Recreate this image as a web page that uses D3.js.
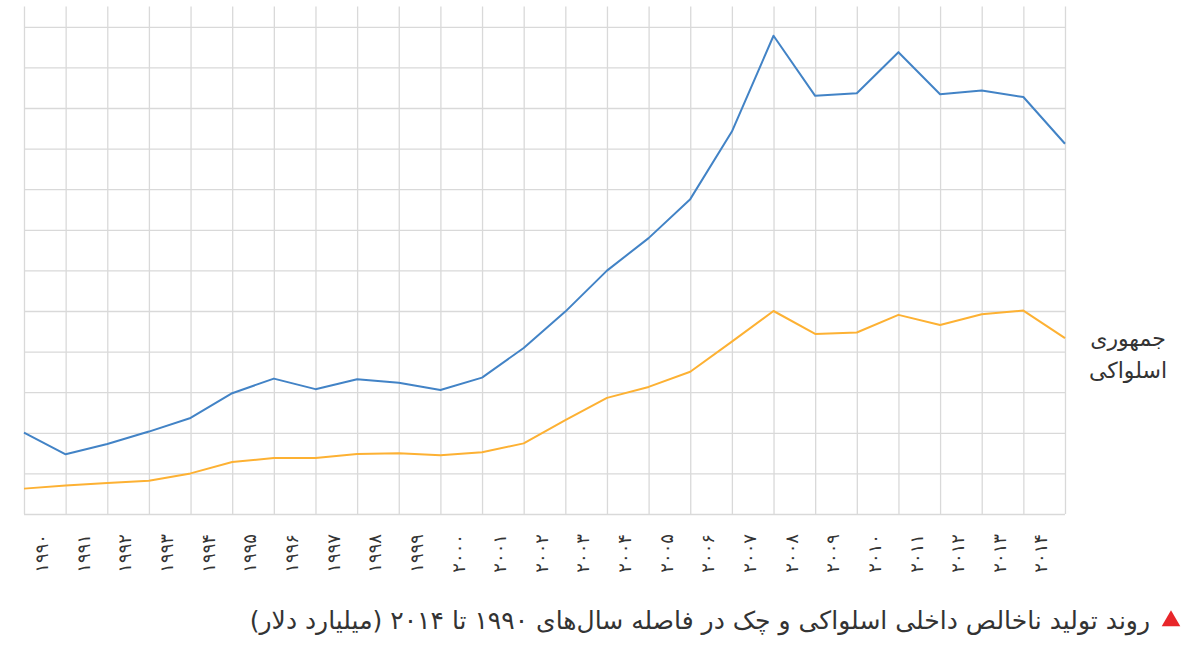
<!DOCTYPE html>
<html>
<head>
<meta charset="utf-8">
<script src="https://cdn.jsdelivr.net/npm/d3@7"></script>
<style>
  html, body { margin: 0; padding: 0; background: #ffffff; }
  svg { display: block; }
</style>
</head>
<body>
<svg id="chart" width="1199" height="647"></svg>
<script>
// ---- data ----
const years = [1990,1991,1992,1993,1994,1995,1996,1997,1998,1999,2000,2001,2002,2003,2004,2005,2006,2007,2008,2009,2010,2011,2012,2013,2014,2015];
const czechValues = [40.1,29.4,34.5,40.6,47.3,59.5,66.7,61.5,66.4,64.7,61.1,67.2,81.8,99.7,119.9,135.9,155.1,188.4,235.6,206.0,207.3,227.5,206.8,208.6,205.4,182.4];
const slovakValues = [12.5,14.0,15.3,16.4,20.0,25.6,27.6,27.6,29.6,29.9,28.9,30.4,34.8,46.3,57.2,62.6,70.1,84.9,100.0,88.7,89.4,98.1,93.1,98.4,100.2,86.6];
const tickYears = [1990,1991,1992,1993,1994,1995,1996,1997,1998,1999,2000,2001,2002,2003,2004,2005,2006,2007,2008,2009,2010,2011,2012,2013,2014];
const tickLabels = ["۱۹۹۰","۱۹۹۱","۱۹۹۲","۱۹۹۳","۱۹۹۴","۱۹۹۵","۱۹۹۶","۱۹۹۷","۱۹۹۸","۱۹۹۹","۲۰۰۰","۲۰۰۱","۲۰۰۲","۲۰۰۳","۲۰۰۴","۲۰۰۵","۲۰۰۶","۲۰۰۷","۲۰۰۸","۲۰۰۹","۲۰۱۰","۲۰۱۱","۲۰۱۲","۲۰۱۳","۲۰۱۴"];
const gridValues = [0,20,40,60,80,100,120,140,160,180,200,220,240];
const seriesLabelLines = ["جمهوری","اسلواکی"];
const titleText = "روند تولید ناخالص داخلی اسلواکی و چک در فاصله سال‌های ۱۹۹۰ تا ۲۰۱۴ (میلیارد دلار)";

// ---- layout ----
const svg = d3.select("#chart");
const plotLeft = 24, plotRight = 1065, plotTop = 6.5, plotBottom = 514;
const gridColor = "#d9d9d9";
const blue = "#4283c6";
const orange = "#fdb133";

const x = d3.scalePoint().domain(years).range([plotLeft, plotRight]);
const xBand = d3.scaleBand().domain(tickYears).range([plotLeft, plotRight]);
const y = d3.scaleLinear().domain([0, 250]).range([plotBottom, plotTop]);

// horizontal gridlines
svg.append("g")
  .attr("transform", `translate(${plotLeft},0)`)
  .call(d3.axisLeft(y).tickValues(gridValues).tickSize(-(plotRight - plotLeft)).tickFormat(""))
  .call(g => g.select(".domain").remove())
  .call(g => g.selectAll(".tick line").attr("stroke", gridColor).attr("stroke-width", 1.3));

// vertical gridlines
svg.append("g")
  .attr("transform", `translate(0,${plotBottom})`)
  .call(d3.axisTop(x).tickSize(plotBottom - plotTop).tickFormat(""))
  .call(g => g.select(".domain").remove())
  .call(g => g.selectAll(".tick line").attr("stroke", gridColor).attr("stroke-width", 1.3));

// x labels
const labelMap = new Map(tickYears.map((yv, i) => [yv, tickLabels[i]]));
const xAxis = svg.append("g")
  .attr("transform", `translate(0,${plotBottom})`)
  .call(d3.axisBottom(xBand).tickSize(0).tickFormat(d => labelMap.get(d)));
xAxis.select(".domain").remove();
xAxis.selectAll(".tick text")
  .attr("font-family", "'DejaVu Sans', sans-serif")
  .attr("font-size", 18)
  .attr("fill", "#333")
  .attr("letter-spacing", 2.5)
  .attr("text-anchor", "end")
  .attr("dy", "0.35em")
  .attr("x", 0)
  .attr("y", 0)
  .attr("transform", "translate(-3,20) rotate(-90)");

// lines
const line = d3.line().x((d, i) => x(years[i])).y(d => y(d));
svg.append("path").datum(czechValues)
  .attr("fill", "none").attr("stroke", blue).attr("stroke-width", 2)
  .attr("stroke-linejoin", "round").attr("d", line);
svg.append("path").datum(slovakValues)
  .attr("fill", "none").attr("stroke", orange).attr("stroke-width", 2)
  .attr("stroke-linejoin", "round").attr("d", line);

// series label
svg.append("g").selectAll("text").data(seriesLabelLines).join("text")
  .attr("x", 1128)
  .attr("y", (d, i) => 346 + i * 32)
  .attr("text-anchor", "middle")
  .attr("direction", "rtl")
  .attr("font-family", "'DejaVu Sans', sans-serif")
  .attr("font-size", 22)
  .attr("fill", "#333")
  .text(d => d);

// title
svg.append("path")
  .attr("d", d3.symbol(d3.symbolTriangle, 150)())
  .attr("transform", "translate(1171,621)")
  .attr("fill", "#e8262a");
svg.append("text")
  .attr("x", 1150)
  .attr("y", 629)
  .attr("direction", "rtl")
  .attr("text-anchor", "start")
  .attr("font-family", "'DejaVu Sans', sans-serif")
  .attr("font-size", 25)
  .attr("fill", "#333")
  .text(titleText);
</script>
</body>
</html>
